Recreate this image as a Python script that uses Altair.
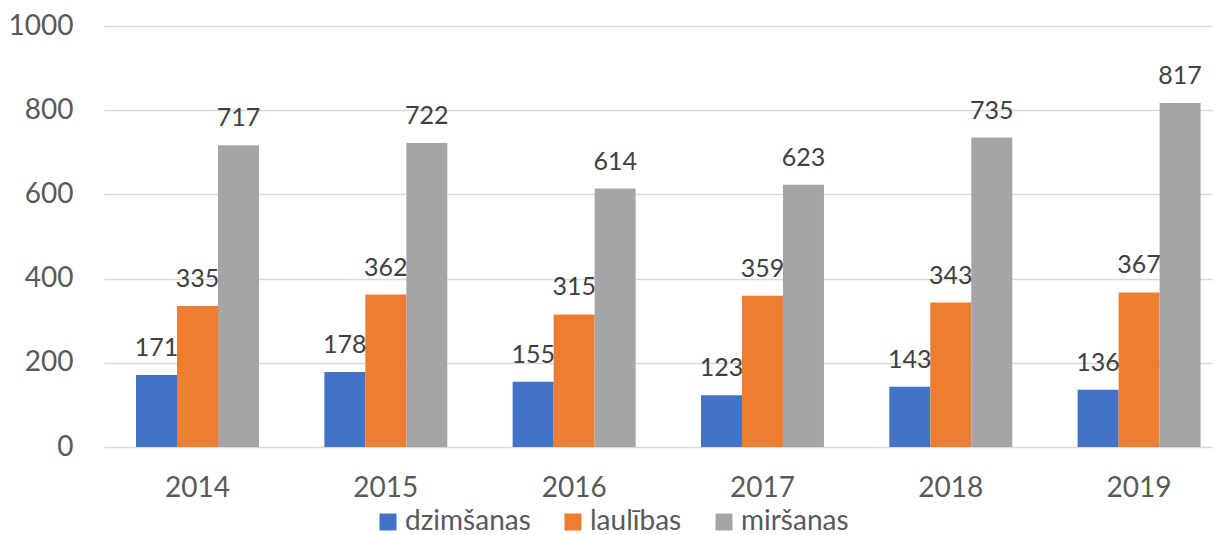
import altair as alt
import pandas as pd

years = ["2014", "2015", "2016", "2017", "2018", "2019"]
series = ["dzimšanas", "laulības", "miršanas"]
dzimsanas = [171, 178, 155, 123, 143, 136]
laulibas = [335, 362, 315, 359, 343, 367]
mirsanas = [717, 722, 614, 623, 735, 817]
colors = ["#4472C4", "#ED7D31", "#A5A5A5"]

rows = []
for s, vals in zip(series, [dzimsanas, laulibas, mirsanas]):
    for y, v in zip(years, vals):
        rows.append({"year": y, "series": s, "value": v})
df = pd.DataFrame(rows)

FONT = "Lato"

x = alt.X("year:N", sort=years, title=None,
          scale=alt.Scale(paddingInner=0.347, paddingOuter=0.17, range=[0, 1128.6]),
          axis=alt.Axis(labelAngle=0, ticks=False, domain=False, labelPadding=27,
                        labelFontSize=28, labelColor="#595959", labelFont=FONT))
xo = alt.XOffset("series:N", sort=series, scale=alt.Scale(paddingInner=0, paddingOuter=0))
y = alt.Y("value:Q", title=None,
          scale=alt.Scale(domain=[0, 1000], nice=False),
          axis=alt.Axis(values=[0, 200, 400, 600, 800, 1000], format="d", ticks=False,
                        domain=False, labelPadding=31, labelFontSize=28,
                        labelColor="#595959", labelFont=FONT, grid=True,
                        gridColor="#D9D9D9", gridWidth=1.3))

bars = alt.Chart(df).mark_bar().encode(
    x=x, xOffset=xo, y=y,
    color=alt.Color("series:N", sort=series,
                    scale=alt.Scale(domain=series, range=colors),
                    legend=alt.Legend(title=None, orient="none", direction="horizontal",
                                      legendX=270, legendY=482, symbolType="square",
                                      symbolSize=289, symbolStrokeWidth=0,
                                      labelFontSize=28, labelFont=FONT,
                                      labelColor="#595959", labelOffset=3,
                                      columnPadding=28, padding=0)),
)

labels = alt.Chart(df).mark_text(baseline="alphabetic", dy=-19, fontSize=25,
                                 font=FONT, color="#404040").encode(
    x=x, xOffset=xo, y=y, text="value:Q",
)

chart = alt.layer(bars, labels).properties(
    width=1109, height=421,
    autosize=alt.AutoSizeParams(type="none"),
    padding={"left": 96, "top": 18, "right": 0, "bottom": 88},
).configure_view(stroke=None)

chart.save("out.html", embed_options={"renderer": "svg", "actions": False})
